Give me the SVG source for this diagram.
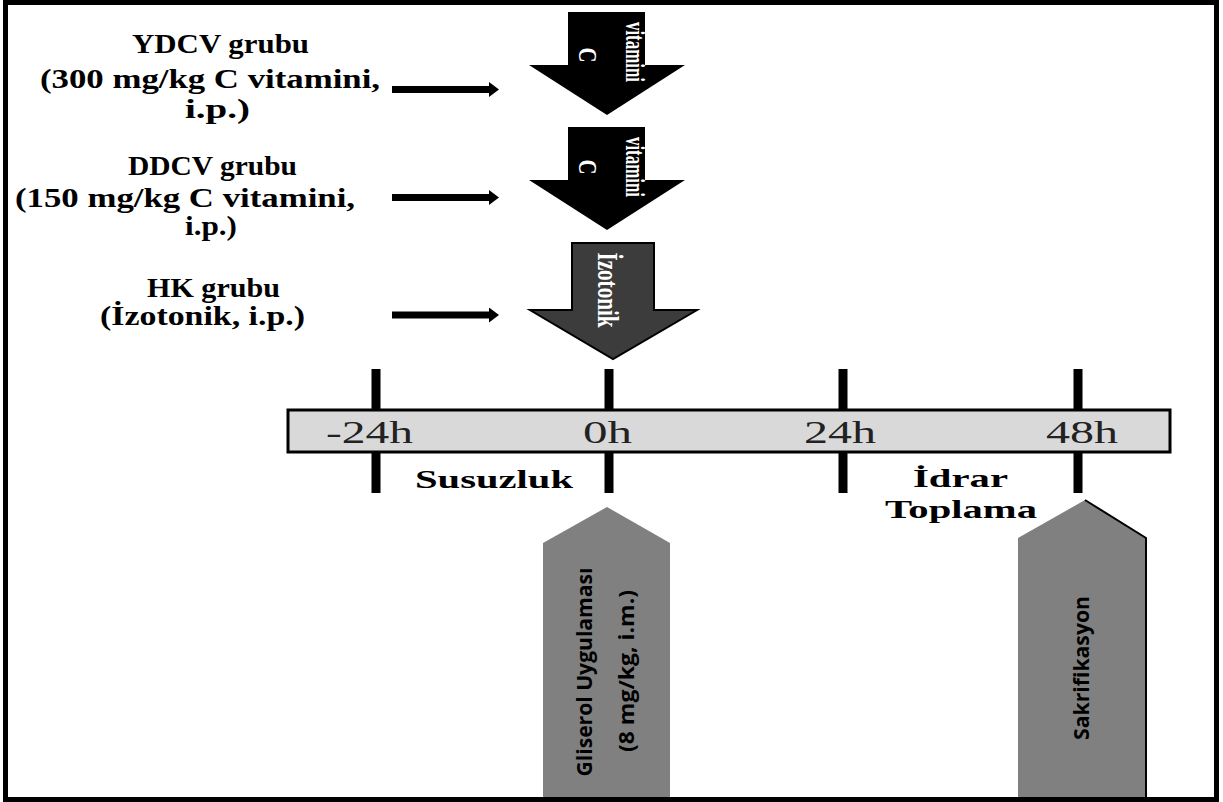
<svg xmlns="http://www.w3.org/2000/svg" width="1223" height="802" viewBox="0 0 1223 802">
  <style>
    .grp { font-family: "Liberation Serif", "Times New Roman", serif; font-weight: bold; font-size: 28px; fill: #000; }
    .inarrow { font-family: "Liberation Serif", "Times New Roman", serif; font-weight: bold; fill: #fff; text-anchor: middle; }
    .hour { font-family: "Liberation Serif", "Times New Roman", serif; font-size: 31px; fill: #222; }
    .phase { font-family: "Liberation Serif", "Times New Roman", serif; font-weight: bold; font-size: 26px; fill: #000; }
    .side { font-family: "Open Sans", "Liberation Sans", sans-serif; font-weight: bold; font-size: 21px; fill: #000; text-anchor: middle; }
    .tick { stroke: #000; stroke-width: 9; }
    .hline { stroke: #000; stroke-width: 7; fill: none; }
    .bigarrow { fill: #000; }
    .pent { fill: #808080; }
  </style>
  <defs>
    <marker id="ah" markerUnits="userSpaceOnUse" markerWidth="10" markerHeight="15" viewBox="0 0 10 15" refX="2" refY="7.5" orient="auto">
      <path d="M0,0 L10,7.5 L0,15 z" fill="#000"/>
    </marker>
  </defs>
  <rect x="0" y="0" width="1223" height="802" fill="#fff"/>

  <g id="group-ydcv">
    <text class="grp" x="132" y="53" textLength="177" lengthAdjust="spacingAndGlyphs">YDCV grubu</text>
    <text class="grp" x="40" y="88" textLength="340" lengthAdjust="spacingAndGlyphs">(300 mg/kg C vitamini,</text>
    <text class="grp" x="185" y="118" textLength="65" lengthAdjust="spacingAndGlyphs">i.p.)</text>
  </g>
  <g id="group-ddcv">
    <text class="grp" x="128" y="175" textLength="169" lengthAdjust="spacingAndGlyphs">DDCV grubu</text>
    <text class="grp" x="15" y="207" textLength="340" lengthAdjust="spacingAndGlyphs">(150 mg/kg C vitamini,</text>
    <text class="grp" x="185" y="235" textLength="52" lengthAdjust="spacingAndGlyphs">i.p.)</text>
  </g>
  <g id="group-hk">
    <text class="grp" x="147" y="297" textLength="133" lengthAdjust="spacingAndGlyphs">HK grubu</text>
    <text class="grp" x="100" y="325" textLength="205" lengthAdjust="spacingAndGlyphs">(İzotonik, i.p.)</text>
  </g>

  <g id="connectors">
    <line class="hline" x1="392" y1="89.5" x2="491" y2="89.5" marker-end="url(#ah)"/>
    <line class="hline" x1="392" y1="197.5" x2="491" y2="197.5" marker-end="url(#ah)"/>
    <line class="hline" x1="392" y1="315" x2="491" y2="315" marker-end="url(#ah)"/>
  </g>

  <g id="arrow-cvit-1">
    <polygon class="bigarrow" points="568,12 645,12 645,65 685,65 607,115 529,65 568,65"/>
    <text class="inarrow" font-size="25" textLength="15" lengthAdjust="spacingAndGlyphs" transform="translate(579,55) rotate(90)">C</text>
    <text class="inarrow" font-size="27" textLength="60" lengthAdjust="spacingAndGlyphs" transform="translate(626,52) rotate(90)">vitamini</text>
  </g>
  <g id="arrow-cvit-2">
    <polygon class="bigarrow" points="568,127 645,127 645,180 685,180 607,230 529,180 568,180"/>
    <text class="inarrow" font-size="25" textLength="15" lengthAdjust="spacingAndGlyphs" transform="translate(579,167) rotate(90)">C</text>
    <text class="inarrow" font-size="27" textLength="60" lengthAdjust="spacingAndGlyphs" transform="translate(626,167) rotate(90)">vitamini</text>
  </g>
  <g id="arrow-izotonik">
    <polygon points="572,243 654,243 654,310 697,310 613,359 530,310 572,310" fill="#3c3c3c" stroke="#000" stroke-width="2"/>
    <text class="inarrow" font-size="29" textLength="75" lengthAdjust="spacingAndGlyphs" transform="translate(598,290) rotate(90)">İzotonik</text>
  </g>

  <g id="timeline">
    <line class="tick" x1="376" y1="369" x2="376" y2="493"/>
    <line class="tick" x1="609" y1="369" x2="609" y2="493"/>
    <line class="tick" x1="843" y1="369" x2="843" y2="493"/>
    <line class="tick" x1="1078" y1="369" x2="1078" y2="493"/>
    <rect x="288" y="410" width="882" height="42" fill="#d9d9d9" stroke="#000" stroke-width="3"/>
    <text class="hour" x="326" y="443" textLength="87" lengthAdjust="spacingAndGlyphs">-24h</text>
    <text class="hour" x="583" y="443" textLength="49" lengthAdjust="spacingAndGlyphs">0h</text>
    <text class="hour" x="804" y="443" textLength="72" lengthAdjust="spacingAndGlyphs">24h</text>
    <text class="hour" x="1046" y="443" textLength="72" lengthAdjust="spacingAndGlyphs">48h</text>
  </g>

  <g id="phase-susuzluk">
    <text class="phase" x="415" y="488" textLength="158" lengthAdjust="spacingAndGlyphs">Susuzluk</text>
  </g>
  <g id="phase-idrar">
    <text class="phase" x="913" y="487" textLength="95" lengthAdjust="spacingAndGlyphs">İdrar</text>
    <text class="phase" x="885" y="518" textLength="152" lengthAdjust="spacingAndGlyphs">Toplama</text>
  </g>

  <g id="gliserol">
    <polygon class="pent" points="543,543 607,507 670,543 670,802 543,802"/>
    <text class="side" textLength="209" lengthAdjust="spacingAndGlyphs" transform="translate(592,672) rotate(-90)">Gliserol Uygulaması</text>
    <text class="side" textLength="162" lengthAdjust="spacingAndGlyphs" transform="translate(634,671) rotate(-90)">(8 mg/kg, i.m.)</text>
  </g>
  <g id="sakrifikasyon">
    <polygon class="pent" points="1018,538 1085,500 1146,538 1146,802 1018,802"/>
    <polyline points="1085,500 1146,538 1146,802" fill="none" stroke="#000" stroke-width="2"/>
    <text class="side" textLength="144" lengthAdjust="spacingAndGlyphs" transform="translate(1089,668) rotate(-90)">Sakrifikasyon</text>
  </g>

  <rect id="frame" x="5.5" y="2.5" width="1211" height="797" fill="none" stroke="#000" stroke-width="5"/>
</svg>
